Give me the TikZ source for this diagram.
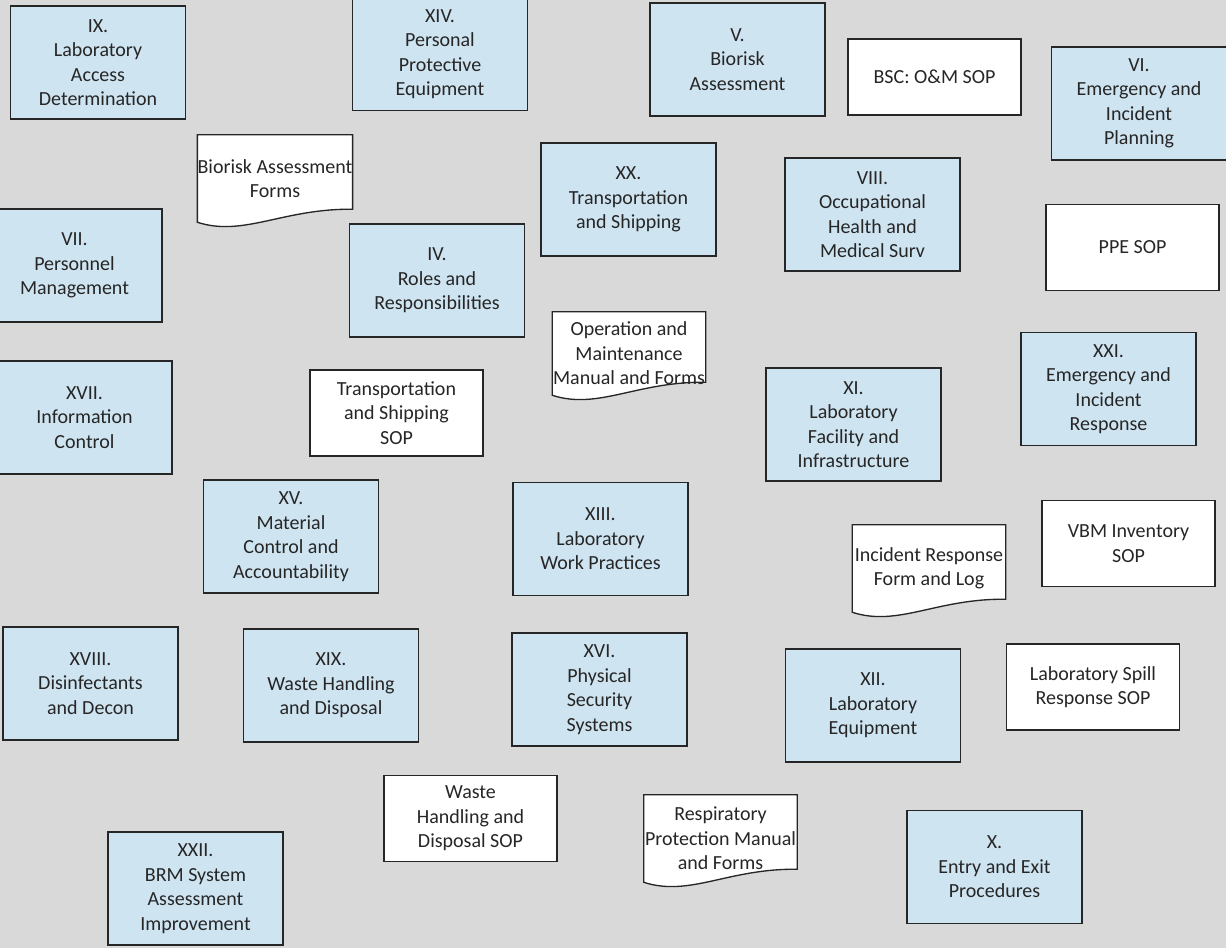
\documentclass[tikz,border=0pt]{standalone}
\usepackage{fontspec}
\setmainfont{Carlito}
\usetikzlibrary{backgrounds}
\definecolor{sheetgray}{RGB}{217,217,217}
\definecolor{sectblue}{RGB}{207,228,241}

\begin{document}
\begin{tikzpicture}[x=0.75pt, y=-0.75pt,
    every node/.style={font=\fontsize{15}{18.4}\selectfont, text=black!85, align=center, inner sep=0pt},
    sect/.style={draw=black!85, line width=1pt, fill=sectblue, minimum width=131.25pt, minimum height=84.75pt},
    sopbox/.style={draw=black!85, line width=1pt, fill=white, minimum width=129.75pt, minimum height=64.5pt},
    docbox/.style={minimum width=114.75pt, minimum height=65.25pt}]
  \useasboundingbox (0,0) rectangle (1226,948);
  \begin{scope}[on background layer]
    \fill[sheetgray] (0,0) rectangle (1226,948);
  \end{scope}
  \clip (0,0) rectangle (1226,948);

  % program elements
  \node[sect] (ix) at (98,62.5) {IX.\\Laboratory\\Access\\Determination};
  \node[sect] (xiv) at (440,54) {XIV.\\Personal\\Protective\\Equipment};
  \node[sect] (v) at (737.5,59.5) {V.\\Biorisk\\Assessment};
  \node[sect] (vi) at (1139,103.5) {VI.\\Emergency and\\Incident\\Planning};
  \node[sect] (xx) at (628.5,199.5) {XX.\\Transportation\\and Shipping};
  \node[sect] (viii) at (872.5,214.5) {VIII.\\Occupational\\Health and\\Medical Surv};
  \node[sect] (vii) at (74.5,265.5) {VII.\\Personnel\\Management};
  \node[sect] (iv) at (437,280.5) {IV.\\Roles and\\Responsibilities};
  \node[sect] (xxi) at (1108.5,389) {XXI.\\Emergency and\\Incident\\Response};
  \node[sect] (xvii) at (84.5,417.5) {XVII.\\Information\\Control};
  \node[sect] (xi) at (853.5,424.5) {XI.\\Laboratory\\Facility and\\Infrastructure};
  \node[sect] (xv) at (291,536.5) {XV.\\Material\\Control and\\Accountability};
  \node[sect] (xiii) at (600.5,539) {XIII.\\Laboratory\\Work Practices};
  \node[sect] (xviii) at (90.5,683.5) {XVIII.\\Disinfectants\\and Decon};
  \node[sect] (xix) at (331,685.5) {XIX.\\Waste Handling\\and Disposal};
  \node[sect] (xvi) at (599.5,689.5) {XVI.\\Physical\\Security\\Systems};
  \node[sect] (xii) at (873,705.5) {XII.\\Laboratory\\Equipment};
  \node[sect] (x) at (994.5,867) {X.\\Entry and Exit\\Procedures};
  \node[sect] (xxii) at (195.5,888.5) {XXII.\\BRM System\\Assessment\\Improvement};

  % SOPs
  \node[sopbox, minimum height=57pt] (bscsop) at (934.5,77) {BSC: O\&M SOP};
  \node[sopbox] (ppesop) at (1132.5,247.5) {PPE SOP};
  \node[sopbox] (transop) at (396.5,413) {Transportation\\and Shipping\\SOP};
  \node[sopbox] (vbmsop) at (1128.5,543.5) {VBM Inventory\\SOP};
  \node[sopbox] (spillsop) at (1093,687) {Laboratory Spill\\Response SOP};
  \node[sopbox] (wastesop) at (470.5,818.5) {Waste\\Handling and\\Disposal SOP};

  % manuals and forms
  \node[docbox] (bioforms) at (275,178.5) {Biorisk Assessment\\Forms};
  \node[docbox, minimum height=62.25pt] (omforms) at (629,353.5) {Operation and\\Maintenance\\Manual and Forms};
  \node[docbox] (incforms) at (929,568.5) {Incident Response\\Form and Log};
  \node[docbox] (respforms) at (720.5,838.5) {Respiratory\\Protection Manual\\and Forms};
  \begin{scope}[on background layer]
    \foreach \d in {bioforms, omforms, incforms, respforms}
      \filldraw[fill=white, draw=black!85, line width=1pt] (\d.north west) -- (\d.north east)
        -- ([yshift=9.75pt]\d.south east)
        .. controls ([xshift=-51.75pt,yshift=10.5pt]\d.south east) and ([xshift=34.5pt,yshift=-11.25pt]\d.south west)
        .. (\d.south west) -- cycle;
  \end{scope}
\end{tikzpicture}
\end{document}
